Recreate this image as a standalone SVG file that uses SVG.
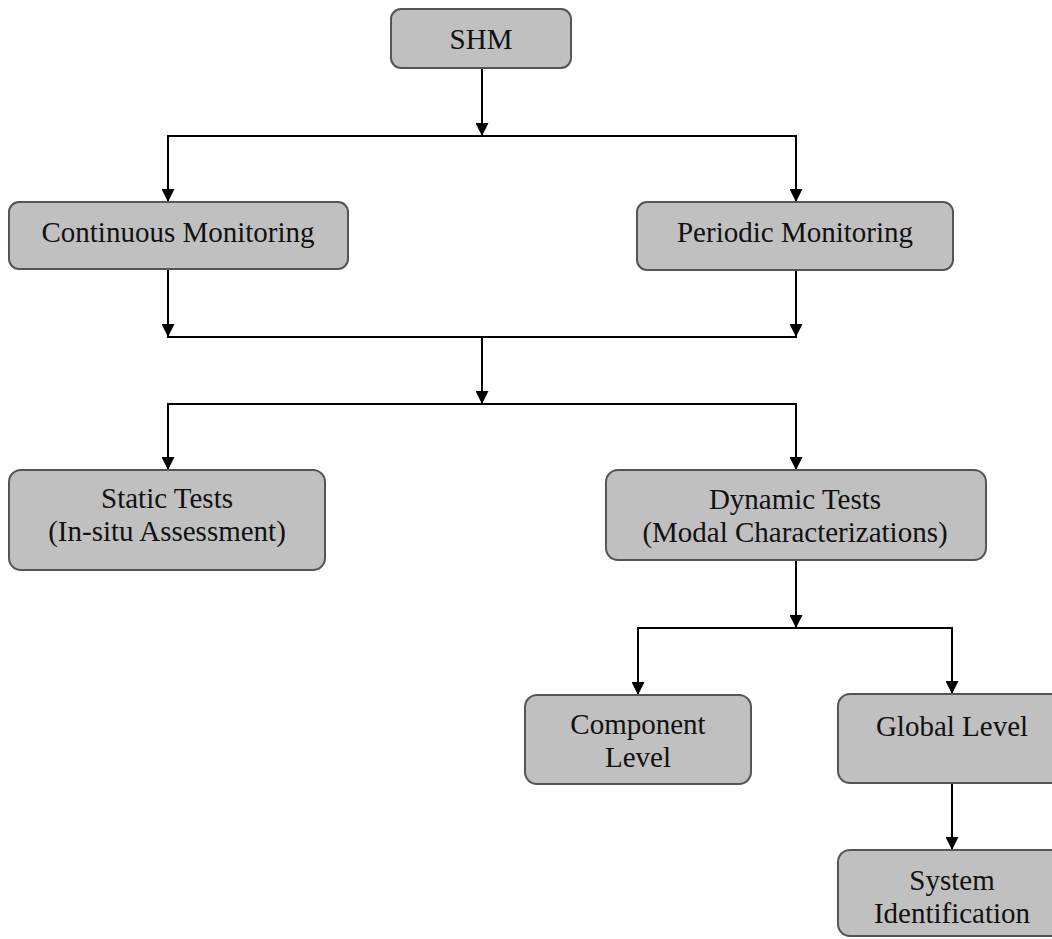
<svg xmlns="http://www.w3.org/2000/svg" width="1052" height="939" viewBox="0 0 1052 939">
<style>
.box{fill:#c0c0c0;stroke:#555;stroke-width:2}
.t{font-family:"Liberation Serif","Times New Roman",serif;font-size:29px;fill:#111;text-anchor:middle}
.c{stroke:#000;stroke-width:2;fill:none}
.a{marker-end:url(#ah)}
</style>
<defs>
<marker id="ah" markerUnits="userSpaceOnUse" markerWidth="13" markerHeight="13" refX="13" refY="6.5" orient="auto">
<path d="M0,0 L13,6.5 L0,13 z" fill="#000"/>
</marker>
</defs>
<rect width="1052" height="939" fill="#fff"/>
<g id="connectors">
<line class="c a" x1="482" y1="68" x2="482" y2="136"/>
<line class="c" x1="167" y1="136" x2="797" y2="136"/>
<line class="c a" x1="168" y1="136" x2="168" y2="202"/>
<line class="c a" x1="796" y1="136" x2="796" y2="202"/>
<line class="c a" x1="168" y1="269" x2="168" y2="337"/>
<line class="c a" x1="796" y1="270" x2="796" y2="337"/>
<line class="c" x1="167" y1="337" x2="797" y2="337"/>
<line class="c a" x1="482" y1="337" x2="482" y2="404"/>
<line class="c" x1="167" y1="404" x2="797" y2="404"/>
<line class="c a" x1="168" y1="404" x2="168" y2="470"/>
<line class="c a" x1="796" y1="404" x2="796" y2="470"/>
<line class="c a" x1="796" y1="560" x2="796" y2="628"/>
<line class="c" x1="637" y1="628" x2="953" y2="628"/>
<line class="c a" x1="638" y1="628" x2="638" y2="695"/>
<line class="c a" x1="952" y1="628" x2="952" y2="694"/>
<line class="c a" x1="952" y1="783" x2="952" y2="850"/>
</g>
<g id="shm">
<rect class="box" x="391" y="9" width="180" height="59" rx="10"/>
<text class="t" x="481" y="49">SHM</text>
</g>
<g id="continuous">
<rect class="box" x="9" y="202" width="339" height="67" rx="10"/>
<text class="t" x="178" y="242">Continuous Monitoring</text>
</g>
<g id="periodic">
<rect class="box" x="637" y="202" width="316" height="68" rx="10"/>
<text class="t" x="795" y="242">Periodic Monitoring</text>
</g>
<g id="static">
<rect class="box" x="9" y="470" width="316" height="100" rx="12"/>
<text class="t" x="167" y="508">Static Tests</text>
<text class="t" x="167" y="541">(In-situ Assessment)</text>
</g>
<g id="dynamic">
<rect class="box" x="606" y="470" width="380" height="90" rx="12"/>
<text class="t" x="795" y="509">Dynamic Tests</text>
<text class="t" x="795" y="542">(Modal Characterizations)</text>
</g>
<g id="component">
<rect class="box" x="525" y="695" width="226" height="89" rx="12"/>
<text class="t" x="638" y="734">Component</text>
<text class="t" x="638" y="767">Level</text>
</g>
<g id="global">
<rect class="box" x="838" y="694" width="228" height="89" rx="12"/>
<text class="t" x="952" y="736">Global Level</text>
</g>
<g id="sysid">
<rect class="box" x="838" y="850" width="228" height="86" rx="12"/>
<text class="t" x="952" y="890">System</text>
<text class="t" x="952" y="923">Identification</text>
</g>
</svg>
